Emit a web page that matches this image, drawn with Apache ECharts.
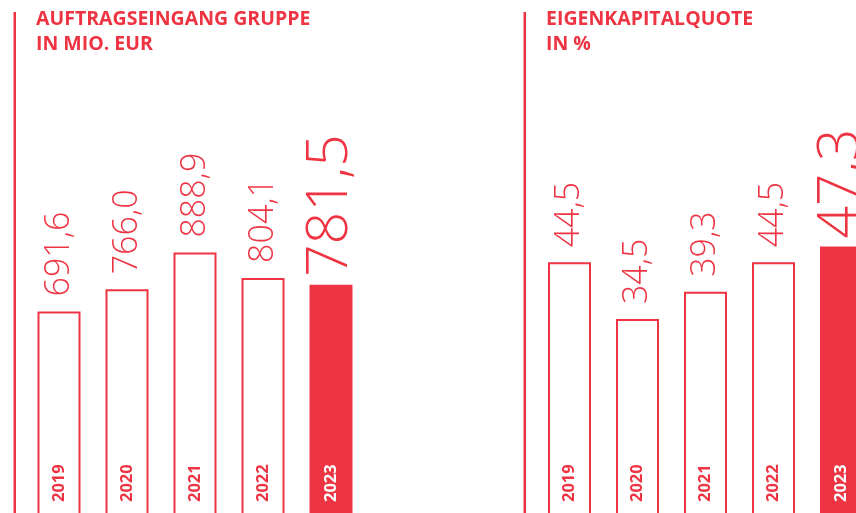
<!DOCTYPE html>
<html>
<head>
<meta charset="utf-8">
<script src="https://cdn.jsdelivr.net/npm/echarts@6/dist/echarts.min.js"></script>
<style>
  html, body { margin: 0; padding: 0; background: #fff; }
  #chart { width: 856px; height: 513px; }
</style>
</head>
<body>
<div id="chart"></div>
<script>
// Daten
var jahre = ['2019', '2020', '2021', '2022', '2023'];
var auftragseingang = [691.6, 766.0, 888.9, 804.1, 781.5];
var eigenkapitalquote = [44.5, 34.5, 39.3, 44.5, 47.3];

var rot = '#ee3442';
var myChart = echarts.init(document.getElementById('chart'));

function komma(v) {
  return v.toFixed(1).replace('.', ',');
}

// Rahmen-Balken, letzter Balken gefuellt
function rahmenDaten(werte) {
  return werte.map(function (v, i) {
    var letzter = i === werte.length - 1;
    return {
      value: v,
      itemStyle: { color: letzter ? rot : '#fff' },
      label: { color: letzter ? '#fff' : rot }
    };
  });
}

// Werte-Beschriftung ueber den Balken
function wertDaten(werte) {
  return werte.map(function (v, i) {
    var letzter = i === werte.length - 1;
    return {
      value: v,
      label: letzter ? { fontSize: 57, distance: 8 } : { fontSize: 34, distance: 15 }
    };
  });
}

function balkenSerie(idx, werte, abstand) {
  return {
    type: 'bar',
    xAxisIndex: idx,
    yAxisIndex: idx,
    barWidth: 43,
    barGap: '-100%',
    data: rahmenDaten(werte),
    itemStyle: { borderColor: rot, borderWidth: 2 },
    label: {
      show: true,
      position: 'insideBottom',
      distance: abstand,
      rotate: 90,
      align: 'left',
      verticalAlign: 'middle',
      fontFamily: 'Open Sans',
      fontWeight: 'bold',
      fontSize: 16.5,
      formatter: function (p) { return p.name; }
    },
    silent: true,
    z: 2
  };
}

function wertSerie(idx, werte) {
  return {
    type: 'bar',
    xAxisIndex: idx,
    yAxisIndex: idx,
    barWidth: 43,
    barGap: '-100%',
    data: wertDaten(werte),
    itemStyle: { color: 'rgba(0,0,0,0)' },
    label: {
      show: true,
      position: 'top',
      rotate: 90,
      align: 'left',
      verticalAlign: 'middle',
      color: rot,
      fontFamily: 'Open Sans',
      fontWeight: 300,
      formatter: function (p) { return komma(p.value); }
    },
    silent: true,
    z: 3
  };
}

var titelStil = {
  color: rot,
  fontFamily: 'Open Sans',
  fontWeight: 'bold',
  fontSize: 19.5,
  lineHeight: 25
};

var option = {
  animation: false,
  backgroundColor: '#fff',
  title: [
    { text: 'AUFTRAGSEINGANG GRUPPE\nIN MIO. EUR', left: 36, top: 7, textStyle: titelStil, padding: 0 },
    { text: 'EIGENKAPITALQUOTE\nIN %', left: 546, top: 7, textStyle: titelStil, padding: 0 }
  ],
  graphic: [
    { type: 'rect', shape: { x: 13.5, y: 12, width: 2.5, height: 505 }, style: { fill: rot }, silent: true },
    { type: 'rect', shape: { x: 523.5, y: 12, width: 2.5, height: 505 }, style: { fill: rot }, silent: true }
  ],
  grid: [
    { left: 25, width: 340, top: 0, bottom: -5, outerBoundsMode: 'none' },
    { left: 535.5, width: 340, top: 0, bottom: -2, outerBoundsMode: 'none' }
  ],
  xAxis: [
    { type: 'category', gridIndex: 0, data: jahre, axisLine: { show: false }, axisTick: { show: false }, axisLabel: { show: false } },
    { type: 'category', gridIndex: 1, data: jahre, axisLine: { show: false }, axisTick: { show: false }, axisLabel: { show: false } }
  ],
  yAxis: [
    { type: 'value', gridIndex: 0, min: 0, max: 1735, show: false, splitLine: { show: false } },
    { type: 'value', gridIndex: 1, min: 0, max: 90.7, show: false, splitLine: { show: false } }
  ],
  series: [
    balkenSerie(0, auftragseingang, 16),
    wertSerie(0, auftragseingang),
    balkenSerie(1, eigenkapitalquote, 13),
    wertSerie(1, eigenkapitalquote)
  ]
};

myChart.setOption(option);
</script>
</body>
</html>
